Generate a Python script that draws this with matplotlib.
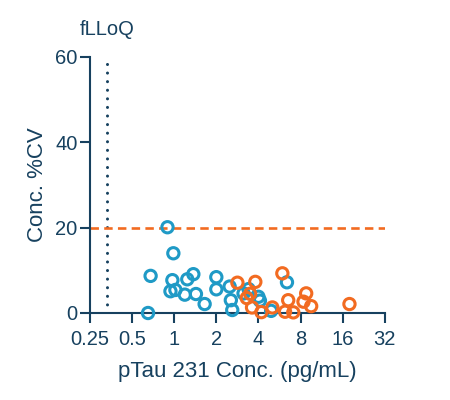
import matplotlib
matplotlib.use("Agg")
import matplotlib.pyplot as plt
from matplotlib.ticker import FixedLocator, FixedFormatter

plt.rcParams['font.family'] = ['Liberation Sans', 'DejaVu Sans']

# blue group
blue_x = [0.895, 0.986, 0.678, 0.65, 0.97, 0.94, 1.02, 1.24, 1.37, 1.19, 1.43, 1.65,
          2.0, 2.0, 2.49, 2.54, 2.6, 3.13, 3.4, 4.0, 4.1, 4.93, 6.4]
blue_y = [20.1, 14.0, 8.7, 0.0, 7.7, 5.1, 5.4, 7.9, 9.1, 4.3, 4.45, 2.1,
          8.4, 5.55, 6.2, 3.0, 0.7, 4.6, 5.6, 3.8, 2.9, 0.5, 7.2]
# orange group
orange_x = [2.83, 3.8, 3.49, 3.3, 3.6, 4.2, 5.03, 5.93, 6.53, 6.2, 7.1, 8.78, 8.4, 9.53, 17.9]
orange_y = [7.1, 7.3, 4.5, 3.5, 1.3, 0.2, 1.3, 9.3, 3.0, 0.3, 0.15, 4.6, 2.65, 1.6, 2.1]

flloq = 0.33
cv_limit = 20
xticks = [0.25, 0.5, 1, 2, 4, 8, 16, 32]
xtick_labels = ['0.25', '0.5', '1', '2', '4', '8', '16', '32']
yticks = [0, 20, 40, 60]

navy = '#17415f'
blue = '#1f9ac6'
orange = '#f26b21'

fig = plt.figure(figsize=(4.5, 4), dpi=100)
ax = fig.add_axes([0.2, 0.2175, 0.655, 0.64])

ax.scatter(blue_x, blue_y, s=66, facecolors='none', edgecolors=blue, linewidths=2.2,
           clip_on=False, zorder=3)
ax.scatter(orange_x, orange_y, s=66, facecolors='none', edgecolors=orange, linewidths=2.2,
           clip_on=False, zorder=4)

ax.axvline(flloq, color=navy, linestyle=(0, (0.01, 2.8)), linewidth=2.2,
           dash_capstyle='round')
ax.axhline(cv_limit, color=orange, linestyle=(0, (3.2, 2.0)), linewidth=1.9)
ax.text(flloq, 66.5, 'fLLoQ', ha='center', va='center', color=navy, fontsize=14.5)

ax.set_xscale('log', base=2)
ax.set_xlim(0.25, 32)
ax.set_ylim(0, 60)
ax.xaxis.set_major_locator(FixedLocator(xticks))
ax.xaxis.set_major_formatter(FixedFormatter(xtick_labels))
ax.xaxis.set_minor_locator(FixedLocator([]))
ax.set_yticks(yticks)

for side in ['top', 'right']:
    ax.spines[side].set_visible(False)
for side in ['left', 'bottom']:
    ax.spines[side].set_color(navy)
    ax.spines[side].set_linewidth(1.5)
ax.tick_params(colors=navy, labelsize=14.5, width=1.5, length=7, labelcolor=navy)
ax.tick_params(axis='x', pad=5)
ax.tick_params(axis='y', pad=2)

ax.set_xlabel('pTau 231 Conc. (pg/mL)', color=navy, fontsize=16, labelpad=9)
ax.set_ylabel('Conc. %CV', color=navy, fontsize=16, labelpad=5)

fig.savefig('out.png', dpi=100)
